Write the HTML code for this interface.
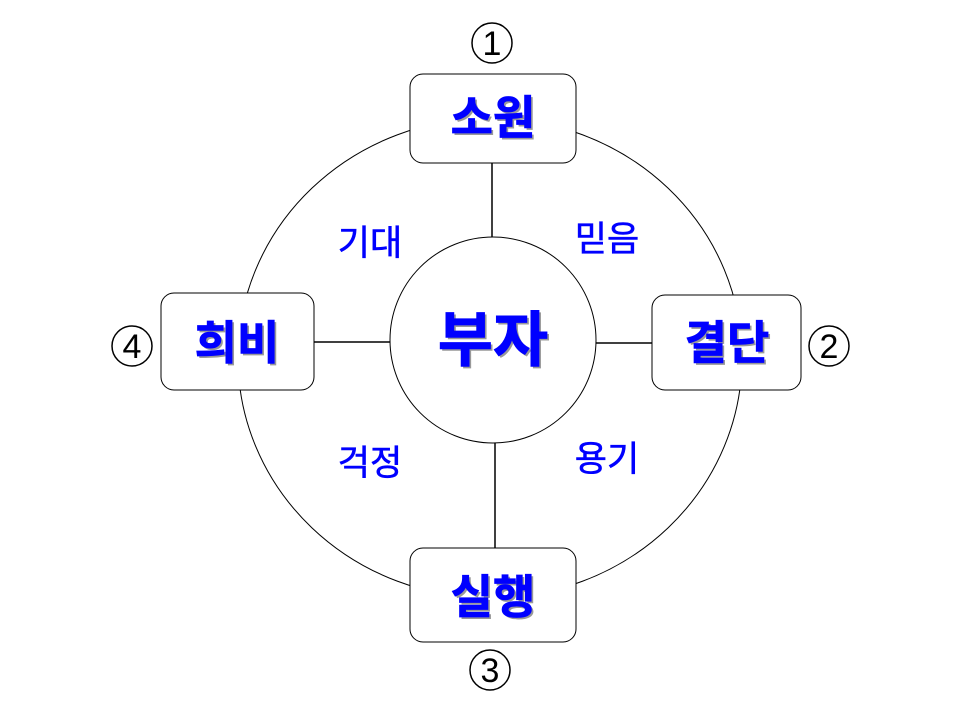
<!DOCTYPE html>
<html><head><meta charset="utf-8"><style>
body{margin:0;background:#fff;width:960px;height:720px;overflow:hidden}
.t{font-family:"Liberation Sans","Noto Sans CJK KR","NanumGothic",sans-serif}
</style></head><body>
<svg width="960" height="720" xmlns="http://www.w3.org/2000/svg">
<ellipse cx="490" cy="358" rx="252" ry="240" fill="none" stroke="#000" stroke-width="1"/>
<line x1="492" y1="163" x2="492" y2="242" stroke="#000" stroke-width="1.5"/>
<line x1="495" y1="437" x2="495" y2="548" stroke="#000" stroke-width="1.5"/>
<line x1="314" y1="342" x2="390" y2="342" stroke="#000" stroke-width="1.5"/>
<line x1="596" y1="343" x2="652" y2="343" stroke="#000" stroke-width="1.5"/>
<circle cx="493" cy="340" r="103" fill="#fff" stroke="#000" stroke-width="1"/>
<rect x="410" y="74" width="166" height="89" rx="13" fill="#fff" stroke="#000"/>
<rect x="652" y="295" width="149" height="95" rx="13" fill="#fff" stroke="#000"/>
<rect x="410" y="548" width="166" height="94" rx="13" fill="#fff" stroke="#000"/>
<rect x="161" y="293" width="153" height="97" rx="13" fill="#fff" stroke="#000"/>
<g class="t" font-weight="bold" text-anchor="middle">
<g fill="#999" transform="translate(2,2)">
<text x="493" y="134" font-size="46">소원</text>
<text x="727" y="359" font-size="46">결단</text>
<text x="493" y="613" font-size="46">실행</text>
<text x="237" y="359" font-size="46">희비</text>
<text x="493" y="361" font-size="60">부자</text>
</g>
<g fill="#0000ff" stroke="#0000ff" stroke-width="0.8">
<text x="493" y="134" font-size="46">소원</text>
<text x="727" y="359" font-size="46">결단</text>
<text x="493" y="613" font-size="46">실행</text>
<text x="237" y="359" font-size="46">희비</text>
<text x="493" y="361" font-size="60">부자</text>
</g>
</g>
<g class="t" fill="#0000ff" stroke="#0000ff" stroke-width="0.6" font-size="35" text-anchor="middle">
<text x="370" y="255">기대</text>
<text x="607" y="251">믿음</text>
<text x="370" y="475">걱정</text>
<text x="607" y="471">용기</text>
</g>
<g fill="none" stroke="#000" stroke-width="1.5">
<circle cx="492" cy="43" r="20"/><circle cx="829" cy="346" r="20"/>
<circle cx="490" cy="670" r="20"/><circle cx="132" cy="346" r="20"/>
</g>
<g class="t" font-size="34" text-anchor="middle" fill="#000">
<text x="492" y="55">1</text><text x="829" y="358">2</text>
<text x="490" y="682">3</text><text x="132" y="358">4</text>
</g>
</svg>
</body></html>
